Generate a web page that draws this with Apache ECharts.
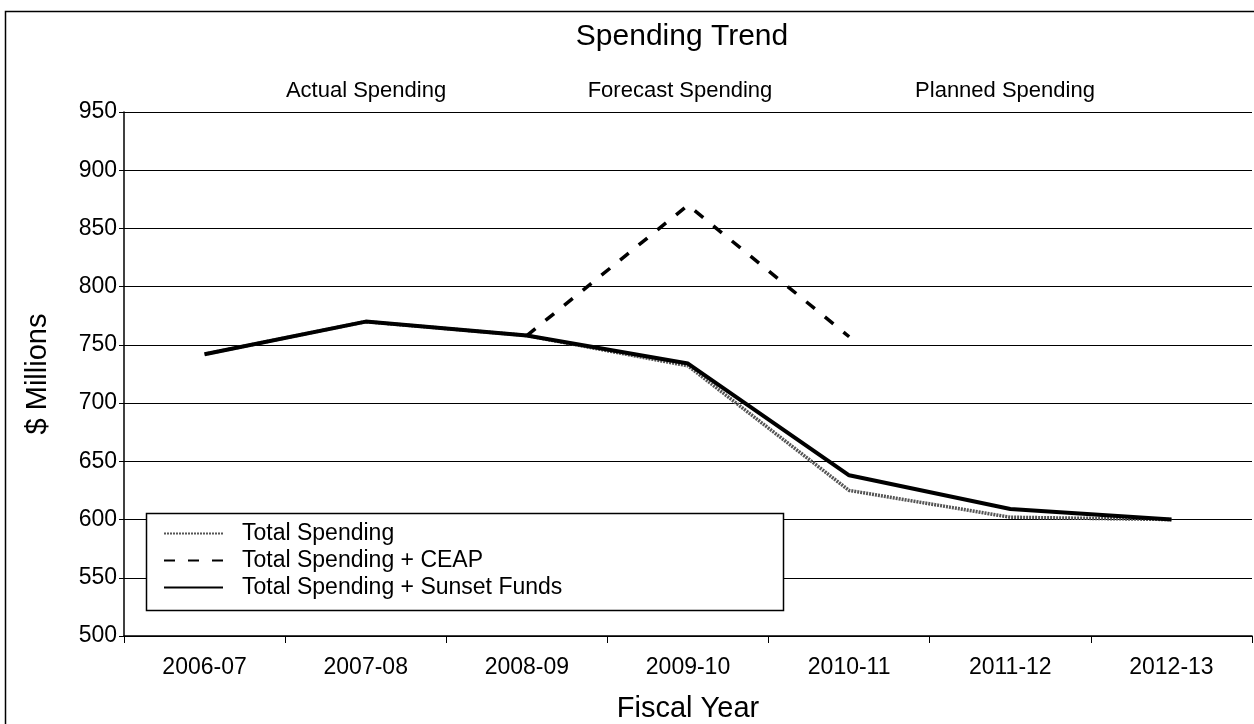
<!DOCTYPE html>
<html>
<head>
    <meta charset="utf-8" />
    <script src="https://cdn.jsdelivr.net/npm/echarts@6/dist/echarts.min.js"></script>
    <style type="text/css">
        html, body { margin: 0; padding: 0; background: #fff; }
        #main { width: 1254px; height: 724px; }
    </style>
</head>
<body>
    <div id="main"></div>
    <script type="text/javascript">
        // 数据
        var years = ["2006-07", "2007-08", "2008-09", "2009-10", "2010-11", "2011-12", "2012-13"];
        var totalSpending = [742, 770, 758, 732, 625, 602, 600];
        var totalCeap = [null, null, 758, 870, 757, null, null];
        var totalSunset = [742, 770, 758, 734, 638, 609, 600];
        var phaseLabels = ["Actual Spending", "Forecast Spending", "Planned Spending"];

        var font = "Liberation Sans, Arial, sans-serif";
        var myChart = echarts.init(document.getElementById("main"));

        function phaseTitle(text, x) {
            return {
                text: text, left: x, top: 80, padding: 0, textAlign: "center",
                textStyle: { fontFamily: font, fontSize: 22, fontWeight: "normal", color: "#000" }
            };
        }

        var option = {
            backgroundColor: "#fff",
            animation: false,
            textStyle: { fontFamily: font, color: "#000" },
            title: [
                { text: "Spending Trend", left: 682, top: 22, padding: 0, textAlign: "center",
                  textStyle: { fontFamily: font, fontSize: 30, fontWeight: "normal", color: "#000" } },
                phaseTitle(phaseLabels[0], 366),
                phaseTitle(phaseLabels[1], 680),
                phaseTitle(phaseLabels[2], 1005)
            ],
            graphic: [
                // 外框
                { type: "rect", z: -1, shape: { x: 5.5, y: 11.5, width: 1260, height: 730 },
                  style: { fill: "none", stroke: "#000", lineWidth: 1.5 } },
                // 图例框
                { type: "rect", z: 5, shape: { x: 146.5, y: 513.5, width: 637, height: 97 },
                  style: { fill: "#fff", stroke: "#000", lineWidth: 1.5 } }
            ],
            legend: {
                orient: "vertical",
                left: 163,
                top: 520,
                padding: 0,
                z: 10,
                itemWidth: 59,
                itemHeight: 10,
                itemGap: 0,
                itemStyle: { opacity: 0 },
                textStyle: { fontFamily: font, fontSize: 23, color: "#000", lineHeight: 27, padding: [0, 0, 0, 14] },
                data: ["Total Spending", "Total Spending + CEAP", "Total Spending + Sunset Funds"]
            },
            grid: { left: 124, right: 2, top: 112, bottom: 88, outerBoundsMode: "none" },
            xAxis: {
                type: "category",
                data: years,
                boundaryGap: true,
                name: "Fiscal Year",
                nameLocation: "middle",
                nameGap: 58,
                nameTextStyle: { fontFamily: font, fontSize: 29, color: "#000" },
                axisLine: { lineStyle: { color: "#000", width: 1.5 } },
                axisTick: { show: true, length: 7, lineStyle: { color: "#000" } },
                axisLabel: { margin: 20, fontFamily: font, fontSize: 23, color: "#000" }
            },
            yAxis: {
                type: "value",
                min: 500,
                max: 950,
                interval: 50,
                name: "$ Millions",
                nameLocation: "middle",
                nameGap: 72,
                nameTextStyle: { fontFamily: font, fontSize: 29, color: "#000" },
                axisLine: { show: true, lineStyle: { color: "#000", width: 1.5 } },
                axisTick: { show: true, length: 5, lineStyle: { color: "#000" } },
                axisLabel: { margin: 7, fontFamily: font, fontSize: 23, color: "#000" },
                splitLine: { show: true, lineStyle: { color: "#000", width: 1 } }
            },
            series: [
                {
                    name: "Total Spending",
                    type: "line",
                    data: totalSpending,
                    symbol: "none",
                    lineStyle: { color: "#555", width: 3.5, type: [2, 1] },
                    itemStyle: { color: "#555" }
                },
                {
                    name: "Total Spending + CEAP",
                    type: "line",
                    data: totalCeap,
                    symbol: "none",
                    lineStyle: { color: "#000", width: 3.5, type: [11, 13] },
                    itemStyle: { color: "#000" }
                },
                {
                    name: "Total Spending + Sunset Funds",
                    type: "line",
                    data: totalSunset,
                    symbol: "none",
                    lineStyle: { color: "#000", width: 4 },
                    itemStyle: { color: "#000" }
                }
            ]
        };

        myChart.setOption(option);
    </script>
</body>
</html>
